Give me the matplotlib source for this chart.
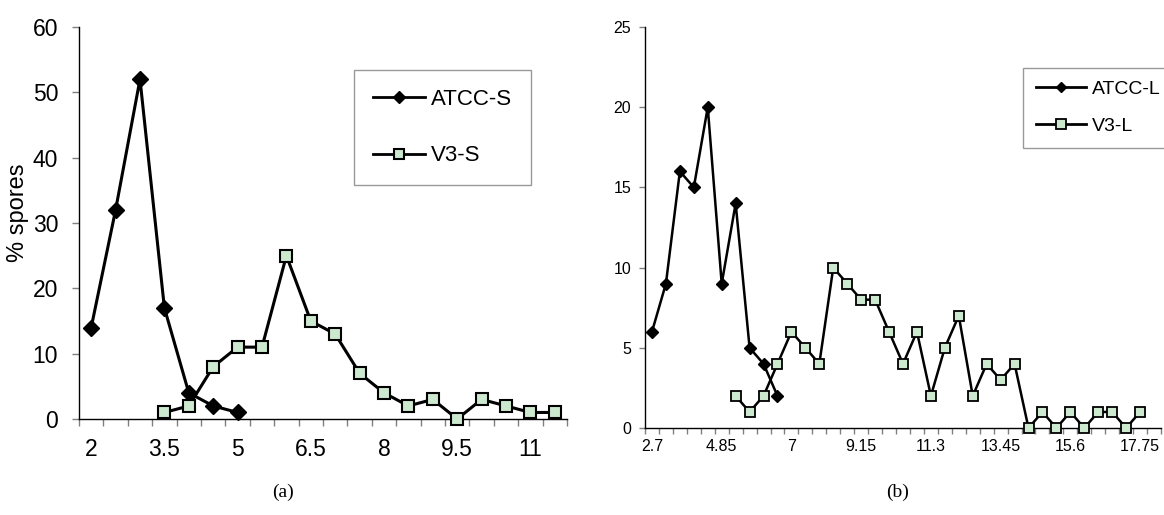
import matplotlib

matplotlib.use("Agg")
import matplotlib.pyplot as plt
import numpy as np
from matplotlib.ticker import FixedLocator, NullFormatter

plt.rcParams["font.family"] = ["Liberation Sans", "DejaVu Sans"]

# (a) short spores
cats_s = [2, 2.5, 3, 3.5, 4, 4.5, 5, 5.5, 6, 6.5, 7, 7.5, 8, 8.5, 9, 9.5, 10, 10.5, 11, 11.5]
atcc_s = [14, 32, 52, 17, 4, 2, 1]
v3_s_start = 3  # index of 3.5
v3_s = [1, 2, 8, 11, 11, 25, 15, 13, 7, 4, 2, 3, 0, 3, 2, 1, 1]
ticklabels_s = ["2", "3.5", "5", "6.5", "8", "9.5", "11"]

# (b) long spores
cats_l = [round(2.7 + 0.43 * i, 2) for i in range(37)]
atcc_l = [6, 9, 16, 15, 20, 9, 14, 5, 4, 2]
v3_l_start = 6
v3_l = [2, 1, 2, 4, 6, 5, 4, 10, 9, 8, 8, 6, 4, 6, 2, 5, 7, 2, 4, 3, 4,
        0, 1, 0, 1, 0, 1, 1, 0, 1]
ticklabels_l = ["2.7", "4.85", "7", "9.15", "11.3", "13.45", "15.6", "17.75"]

green = "#CCE8CF"
tick_gray = "#808080"

fig = plt.figure(figsize=(11.64, 5.15), dpi=100)
ax1 = fig.add_axes([79 / 1164, 1 - 419 / 515, 488 / 1164, 392 / 515])
ax2 = fig.add_axes([645 / 1164, 1 - 428 / 515, 516 / 1164, 401 / 515])


def style_axis(ax, n, step, labels, ymax, ystep, xsize, lab_pad, ypad, ticklen):
    ax.set_xlim(-0.5, n - 0.5)
    ax.set_ylim(0, ymax)
    for side in ("top", "right"):
        ax.spines[side].set_visible(False)
    for side in ("left", "bottom"):
        ax.spines[side].set_linewidth(1.0)
        ax.spines[side].set_color("black")
    ax.xaxis.set_major_locator(FixedLocator(np.arange(n + 1) - 0.5))
    ax.xaxis.set_major_formatter(NullFormatter())
    ax.xaxis.set_minor_locator(FixedLocator(np.arange(0, n, step)))
    ax.set_xticklabels(labels, minor=True)
    ax.tick_params(axis="x", which="major", direction="out", length=ticklen,
                   color=tick_gray, width=1)
    ax.tick_params(axis="x", which="minor", length=0, pad=lab_pad, labelsize=xsize)
    ax.set_yticks(np.arange(0, ymax + 1, ystep))
    ax.tick_params(axis="y", direction="out", length=ticklen, color=tick_gray,
                   width=1, labelsize=xsize, pad=ypad)


style_axis(ax1, len(cats_s), 3, ticklabels_s, 60, 10, 16.5, 13.5, 10, 5)
style_axis(ax2, len(cats_l), 5, ticklabels_l, 25, 5, 11.5, 8, 6, 4)

x = np.arange(len(cats_s))
ax1.plot(x[:len(atcc_s)], atcc_s, color="black", lw=2.2, marker="D",
         ms=8, mfc="black", mec="black", label="ATCC-S", clip_on=False, zorder=3)
ax1.plot(x[v3_s_start:v3_s_start + len(v3_s)], v3_s, color="black", lw=2.2,
         marker="s", ms=9, mfc=green, mec="black", mew=1.5, label="V3-S",
         clip_on=False, zorder=4)

x = np.arange(len(cats_l))
ax2.plot(x[:len(atcc_l)], atcc_l, color="black", lw=1.8, marker="D",
         ms=6, mfc="black", mec="black", label="ATCC-L", clip_on=False, zorder=3)
ax2.plot(x[v3_l_start:v3_l_start + len(v3_l)], v3_l, color="black", lw=1.8,
         marker="s", ms=7.5, mfc=green, mec="black", mew=1.3, label="V3-L",
         clip_on=False, zorder=4)

leg1 = fig.legend(*ax1.get_legend_handles_labels(), loc="upper left",
                  bbox_to_anchor=(354 / 1164, 1 - 70 / 515), fontsize=16,
                  frameon=True, fancybox=False, edgecolor="#808080",
                  handlelength=2.35, handletextpad=0.25, borderpad=0.85,
                  labelspacing=1.6, borderaxespad=0)
leg1.get_frame().set_linewidth(1.0)
leg1.legend_handles[0].set_markersize(6)
leg1.legend_handles[1].set_markersize(7.5)
for h in leg1.legend_handles:
    h.set_linewidth(2)

leg2 = fig.legend(*ax2.get_legend_handles_labels(), loc="upper left",
                  bbox_to_anchor=(1023 / 1164, 1 - 68 / 515), fontsize=14,
                  frameon=True, fancybox=False, edgecolor="#808080",
                  handlelength=2.6, handletextpad=0.3, borderpad=0.65,
                  labelspacing=1.0, borderaxespad=0)
leg2.get_frame().set_linewidth(1.0)
leg2.legend_handles[0].set_markersize(5.5)
leg2.legend_handles[1].set_markersize(7.5)
for h in leg2.legend_handles:
    h.set_linewidth(2)

fig.text(18 / 1164, 1 - 213 / 515, "% spores", rotation=90, ha="center",
         va="center", fontsize=17)
fig.text(283 / 1164, 1 - 492 / 515, "(a)", ha="center", va="center",
         fontsize=14, family="Liberation Serif")
fig.text(898 / 1164, 1 - 492 / 515, "(b)", ha="center", va="center",
         fontsize=14, family="Liberation Serif")

fig.savefig("out.png", dpi=100)
